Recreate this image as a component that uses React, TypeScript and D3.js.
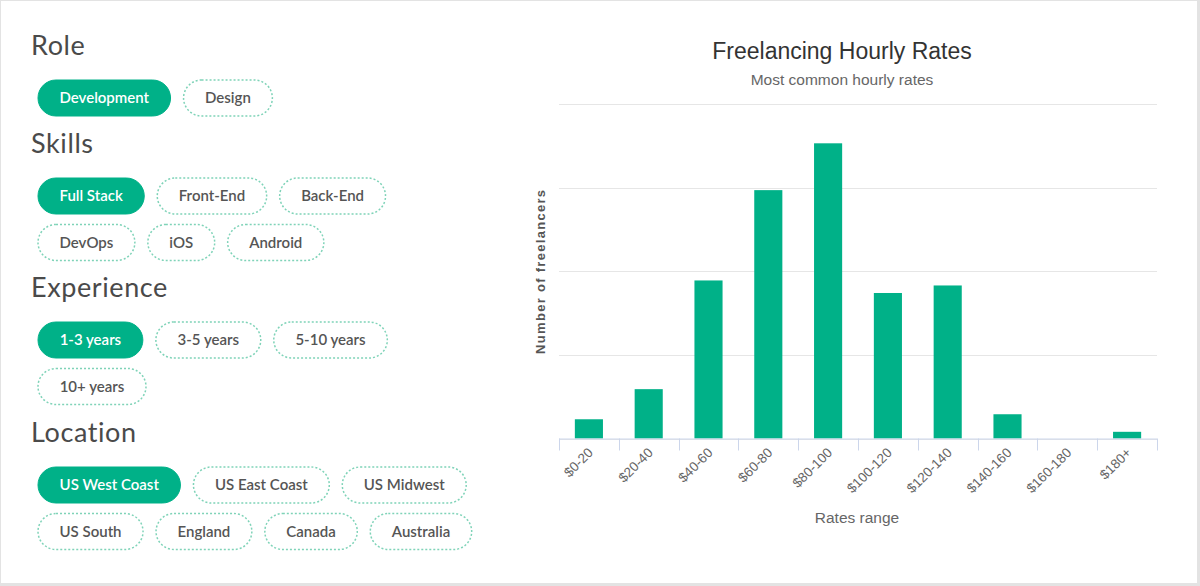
import React, { useMemo } from 'react'
import * as d3 from 'd3'

// Filter groups shown on the left
const roleOptions = [['Development', 'Design']]
const skillOptions = [['Full Stack', 'Front-End', 'Back-End'], ['DevOps', 'iOS', 'Android']]
const experienceOptions = [['1-3 years', '3-5 years', '5-10 years'], ['10+ years']]
const locationOptions = [
  ['US West Coast', 'US East Coast', 'US Midwest'],
  ['US South', 'England', 'Canada', 'Australia'],
]
const selected = ['Development', 'Full Stack', '1-3 years', 'US West Coast']

// Histogram of hourly rates
const rateRanges = ['$0-20', '$20-40', '$40-60', '$60-80', '$80-100', '$100-120', '$120-140', '$140-160', '$160-180', '$180+']
const freelancerCounts = [23, 59, 189, 297, 353, 174, 183, 29, 0, 8]
const countTicks = [0, 100, 200, 300, 400]

const GREEN = '#00b188'
const PILL_FONT = '600 15px Lato, "Open Sans", sans-serif'

let measureCtx: CanvasRenderingContext2D | null = null
function textWidth(s: string) {
  if (!measureCtx) measureCtx = document.createElement('canvas').getContext('2d')
  measureCtx!.font = PILL_FONT
  return measureCtx!.measureText(s).width
}

function PillGroup({ title, rows, top }: { title: string; rows: string[][]; top: number }) {
  const pad = 21.5
  const gap = 13
  const h = 36
  return (
    <g>
      <text x={31} y={top} fontSize={27} letterSpacing={0.6} fill="#4a4a4a" fontFamily="Lato, sans-serif">{title}</text>
      {rows.map((row, ri) => {
        let x = 38
        const cy = top + 43 + ri * 46.5
        return row.map(label => {
          const w = textWidth(label) + pad * 2
          const px = x
          x += w + gap
          const on = selected.includes(label)
          return (
            <g key={label} transform={`translate(${px},${cy - h / 2})`}>
              <rect
                width={w}
                height={h}
                rx={h / 2}
                fill={on ? GREEN : '#fff'}
                stroke={on ? GREEN : '#7fd3b8'}
                strokeWidth={on ? 1 : 1.5}
                strokeDasharray={on ? undefined : '2 2'}
              />
              <text
                x={w / 2}
                y={h / 2 + 5}
                textAnchor="middle"
                fill={on ? '#fff' : '#555'}
                style={{ font: PILL_FONT }}
              >
                {label}
              </text>
            </g>
          )
        })
      })}
    </g>
  )
}

function RatesChart() {
  const left = 559
  const right = 1157
  const top = 104
  const bottom = 438.5

  const x = useMemo(() => d3.scaleBand().domain(rateRanges).range([left, right]).padding(0), [])
  const xBar = useMemo(
    () => d3.scaleBand().domain(rateRanges).range([left, right]).paddingInner(0.53).paddingOuter(0.265),
    []
  )
  const y = useMemo(() => d3.scaleLinear().domain([0, 400]).range([bottom, top]), [])

  const tickXs = [...rateRanges.map(r => x(r)!), right]

  return (
    <g fontFamily="Arial, 'Liberation Sans', sans-serif">
      <text x={842} y={59} textAnchor="middle" fontSize={23} fill="#333">Freelancing Hourly Rates</text>
      <text x={842} y={85} textAnchor="middle" fontSize={15.5} fill="#666">Most common hourly rates</text>

      {countTicks.map(t => (
        <line key={t} x1={left} x2={right} y1={Math.round(y(t)) + 0.5} y2={Math.round(y(t)) + 0.5} stroke="#e6e6e6" />
      ))}

      {rateRanges.map((r, i) => (
        <rect
          key={r}
          x={xBar(r)}
          y={y(freelancerCounts[i])}
          width={xBar.bandwidth()}
          height={bottom - y(freelancerCounts[i])}
          fill={GREEN}
        />
      ))}

      <line x1={left} x2={right} y1={bottom + 0.5} y2={bottom + 0.5} stroke="#ccd6eb" />
      {tickXs.map((tx, i) => (
        <line key={i} x1={Math.round(tx) + 0.5} x2={Math.round(tx) + 0.5} y1={bottom} y2={bottom + 12} stroke="#ccd6eb" />
      ))}

      {rateRanges.map(r => {
        const cx = x(r)! + x.bandwidth() / 2 + 5
        return (
          <text
            key={r}
            transform={`translate(${cx},${bottom + 15}) rotate(-45)`}
            textAnchor="end"
            fontSize={13.5}
            fill="#666"
          >
            {r}
          </text>
        )
      })}

      <text x={857} y={523} textAnchor="middle" fontSize={15.5} fill="#666">Rates range</text>
      <text
        transform={`translate(545,${(top + bottom) / 2}) rotate(-90)`}
        textAnchor="middle"
        fontSize={13}
        fontWeight="bold"
        letterSpacing={1.3}
        fill="#555"
      >
        Number of freelancers
      </text>
    </g>
  )
}

export default function App() {
  return (
    <div style={{ position: 'absolute', left: 0, top: 0 }}>
      <svg width={1200} height={586} style={{ display: 'block' }}>
        <rect width={1200} height={586} fill="#e3e3e3" />
        <rect x={1} y={1} width={1196} height={582} fill="#fff" />
        <PillGroup title="Role" rows={roleOptions} top={55} />
        <PillGroup title="Skills" rows={skillOptions} top={153} />
        <PillGroup title="Experience" rows={experienceOptions} top={297} />
        <PillGroup title="Location" rows={locationOptions} top={442} />
        <RatesChart />
      </svg>
    </div>
  )
}
